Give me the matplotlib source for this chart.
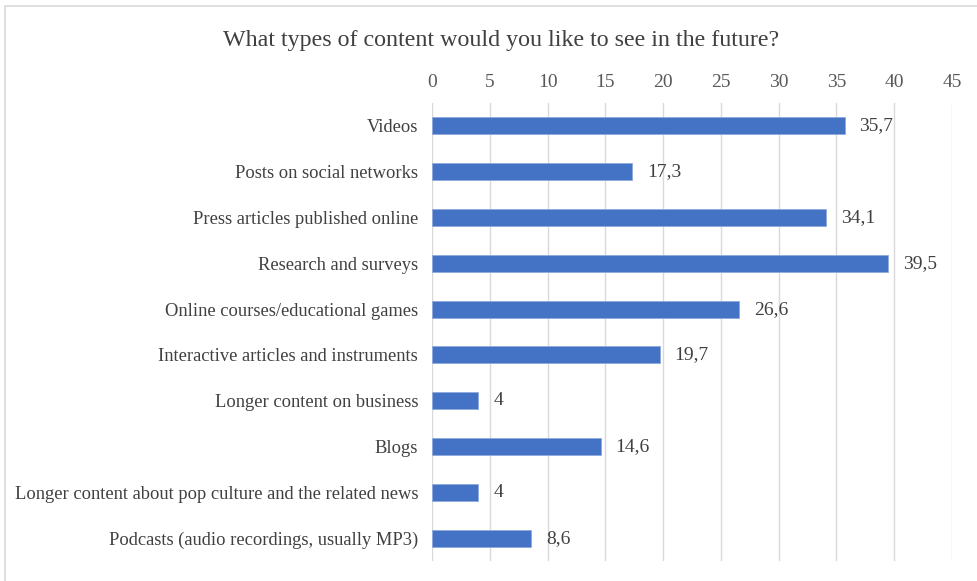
import matplotlib
matplotlib.use("Agg")
import matplotlib.pyplot as plt
from matplotlib.patches import Rectangle

categories = [
    "Videos",
    "Posts on social networks",
    "Press articles published online",
    "Research and surveys",
    "Online courses/educational games",
    "Interactive articles and instruments",
    "Longer content on business",
    "Blogs",
    "Longer content about pop culture and the related news",
    "Podcasts (audio recordings, usually MP3)",
]
values = [35.7, 17.3, 34.1, 39.5, 26.6, 19.7, 4, 14.6, 4, 8.6]
x_ticks = [0, 5, 10, 15, 20, 25, 30, 35, 40, 45]
title = "What types of content would you like to see in the future?"

plt.rcParams["font.family"] = ["Liberation Serif", "DejaVu Serif"]

fig = plt.figure(figsize=(9.78, 5.81), dpi=100)
ax = fig.add_axes([0.4417, 0.0344, 0.5317, 0.7883])

pos = list(range(len(categories)))
ax.barh(pos, values, height=0.37, color="#4472C4", edgecolor="#8FAADC", linewidth=0.6, zorder=3)

for y, v in zip(pos, values):
    label = f"{v:g}".replace(".", ",")
    ax.text(v + 1.3, y, label, va="center", ha="left", fontsize=14, color="#404040")

ax.set_xlim(0, 45)
ax.set_ylim(len(categories) - 0.5, -0.5)
ax.set_xticks(x_ticks)
ax.set_yticks(pos)
ax.set_yticklabels(categories)
ax.xaxis.tick_top()
ax.tick_params(axis="x", length=0, pad=9, labelsize=14, labelcolor="#595959")
ax.tick_params(axis="y", length=0, pad=10, labelsize=13.3, labelcolor="#404040")
ax.grid(axis="x", color="#D9D9D9", linewidth=1, zorder=0)
for s in ax.spines.values():
    s.set_visible(False)

fig.text(0.512, 0.931, title, ha="center", va="center", fontsize=17.3, color="#404040")

fig.patches.append(Rectangle((0.005, -0.05), 1.2, 1.04, transform=fig.transFigure,
                             fill=False, edgecolor="#D9D9D9", linewidth=1.2))

fig.savefig("out.png", dpi=100)
